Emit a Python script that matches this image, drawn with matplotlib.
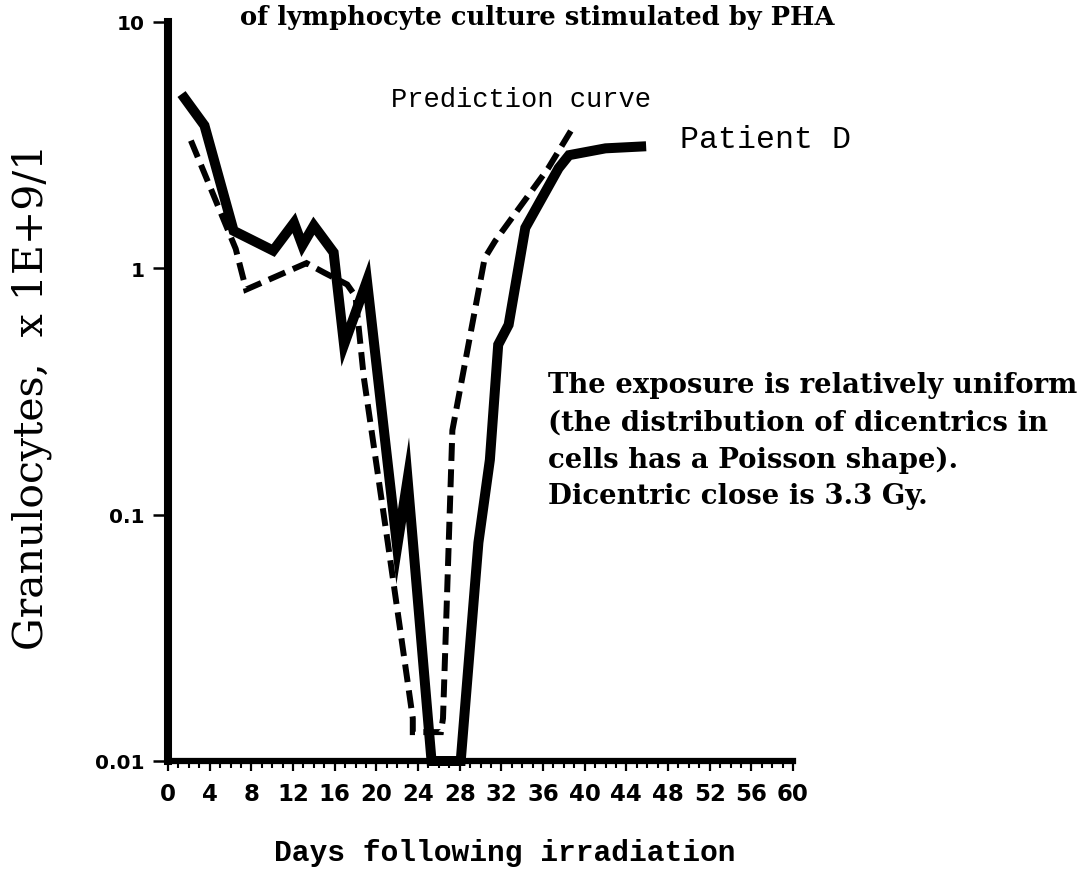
import matplotlib.pyplot as plt
import numpy as np
from matplotlib.ticker import MultipleLocator, NullLocator

# Patient D (solid) and prediction curve (dashed), granulocytes x 1E+9/l
days_patient = [1.3, 3.5, 6.3, 10.1, 12.1, 12.9, 14.0, 15.9, 16.9, 19.1,
                22.0, 23.0, 25.3, 28.1, 29.8, 30.9, 31.7, 32.7, 34.3,
                37.5, 38.5, 42.0, 45.9]
vals_patient = [5.1, 3.8, 1.42, 1.18, 1.53, 1.24, 1.49, 1.16, 0.49, 0.89,
                0.074, 0.139, 0.01, 0.01, 0.077, 0.167, 0.49, 0.59, 1.46,
                2.55, 2.88, 3.07, 3.13]

days_pred = [2.2, 6.5, 7.5, 13.3, 15.0, 17.2, 18.0, 18.8, 21.1, 23.5, 23.5,
             26.2, 26.4, 26.9, 27.3, 30.4, 31.4, 36.5, 38.7]
vals_pred = [3.3, 1.2, 0.82, 1.05, 0.96, 0.86, 0.77, 0.36, 0.077, 0.0149,
             0.0131, 0.0131, 0.0149, 0.066, 0.22, 1.10, 1.29, 2.55, 3.63]

x_major = np.arange(0, 61, 4)
y_ticks = [0.01, 0.1, 1, 10]
y_labels = ["0.01", "0.1", "1", "10"]

W, H = 1090, 887
fig = plt.figure(figsize=(W / 100, H / 100), dpi=100)
ax = fig.add_axes([168 / W, 1 - 762 / H, (793 - 168) / W, (762 - 23) / H])

ax.plot(days_patient, vals_patient, color="black", lw=7.2,
        solid_joinstyle="miter", solid_capstyle="butt", clip_on=False, zorder=3)
ax.plot(days_pred, vals_pred, color="black", lw=4.3, dashes=(3, 1.4),
        dash_joinstyle="miter", clip_on=True, zorder=3)

ax.set_yscale("log")
ax.set_ylim(0.01, 10)
ax.set_xlim(0, 60)

ax.spines["top"].set_visible(False)
ax.spines["right"].set_visible(False)
ax.spines["left"].set_linewidth(5.8)
ax.spines["bottom"].set_linewidth(4.5)

ax.set_yticks(y_ticks, labels=y_labels, fontweight="bold", fontsize=14.5,
              family="DejaVu Sans")
ax.yaxis.set_minor_locator(NullLocator())
ax.set_xticks(x_major, labels=[str(d) for d in x_major], fontweight="bold",
              fontsize=16.5, family="DejaVu Sans")
ax.xaxis.set_minor_locator(MultipleLocator(1))

ax.tick_params(axis="y", which="major", length=11, width=1.8, pad=6,
               direction="out")
ax.tick_params(axis="x", which="major", length=7, width=1.6, pad=8,
               direction="out")
ax.tick_params(axis="x", which="minor", length=5, width=1.5, direction="out")


def px(x, y):
    return x / W, 1 - y / H


fig.text(*px(537, 17), "of lymphocyte culture stimulated by PHA",
         family="DejaVu Serif", fontweight="bold", fontsize=18.5,
         ha="center", va="center")
fig.text(*px(521, 100), "Prediction curve", family="Liberation Mono",
         fontsize=19.5, ha="center", va="center")
fig.text(*px(765, 140), "Patient D", family="Liberation Mono",
         fontsize=22.8, ha="center", va="center")

notes = ["The exposure is relatively uniform",
         "(the distribution of dicentrics in",
         "cells has a Poisson shape).",
         "Dicentric close is 3.3 Gy."]
for i, line in enumerate(notes):
    fig.text(*px(548, 386 + i * 37), line, family="DejaVu Serif",
             fontweight="bold", fontsize=19.8, ha="left", va="center")

fig.text(*px(32, 397), "Granulocytes,  x 1E+9/1", family="DejaVu Serif",
         fontsize=29.5, rotation=90, ha="center", va="center")
fig.text(*px(505, 853), "Days following irradiation",
         family="Liberation Mono", fontweight="bold", fontsize=21.3,
         ha="center", va="center")

fig.savefig("out.png", dpi=100)
